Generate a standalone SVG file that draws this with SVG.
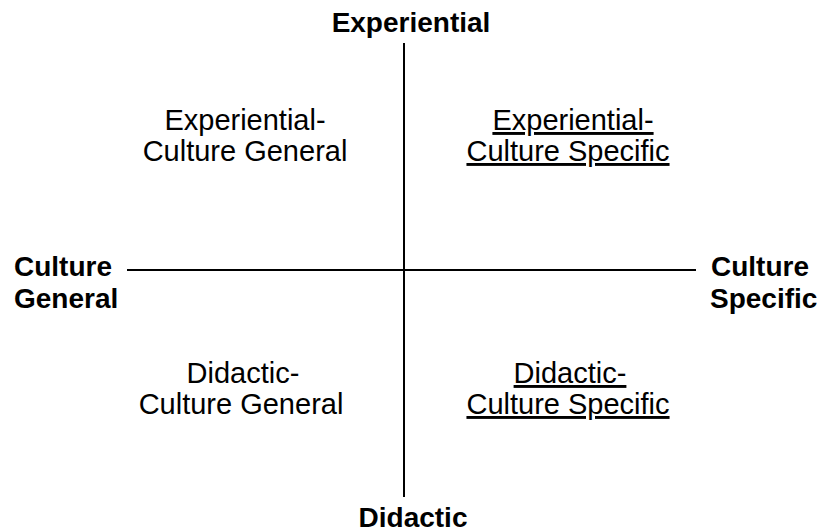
<svg xmlns="http://www.w3.org/2000/svg" width="824" height="532" viewBox="0 0 824 532">
  <style>
    .axis { stroke: #000; stroke-width: 2; fill: none; }
    .pole { font-family: "Liberation Sans", Arial, sans-serif; font-size: 28px; font-weight: bold; fill: #000; }
    .quad { font-family: "Liberation Sans", Arial, sans-serif; font-size: 29px; fill: #000; text-anchor: middle; }
    .ul { text-decoration: underline; }
  </style>
  <rect width="824" height="532" fill="#fff"/>

  <!-- axes -->
  <g id="connectors">
    <line class="axis" x1="404" y1="43" x2="404" y2="497"/>
    <line class="axis" x1="127" y1="270" x2="696" y2="270"/>
  </g>

  <!-- axis end labels -->
  <g id="pole-experiential">
    <text class="pole" x="411" y="32" text-anchor="middle">Experiential</text>
  </g>
  <g id="pole-didactic">
    <text class="pole" x="413" y="527" text-anchor="middle">Didactic</text>
  </g>
  <g id="pole-culture-general">
    <text class="pole" x="14" y="276">Culture</text>
    <text class="pole" x="14" y="308">General</text>
  </g>
  <g id="pole-culture-specific">
    <text class="pole" x="711" y="276">Culture</text>
    <text class="pole" x="710" y="308">Specific</text>
  </g>

  <!-- quadrant labels -->
  <g id="quad-experiential-general">
    <text class="quad" x="245" y="130">Experiential-</text>
    <text class="quad" x="245" y="161">Culture General</text>
  </g>
  <g id="quad-experiential-specific">
    <text class="quad ul" x="573" y="130">Experiential-</text>
    <text class="quad ul" x="568" y="161">Culture Specific</text>
  </g>
  <g id="quad-didactic-general">
    <text class="quad" x="243" y="383">Didactic-</text>
    <text class="quad" x="241" y="414">Culture General</text>
  </g>
  <g id="quad-didactic-specific">
    <text class="quad ul" x="570" y="383">Didactic-</text>
    <text class="quad ul" x="568" y="414">Culture Specific</text>
  </g>
</svg>
